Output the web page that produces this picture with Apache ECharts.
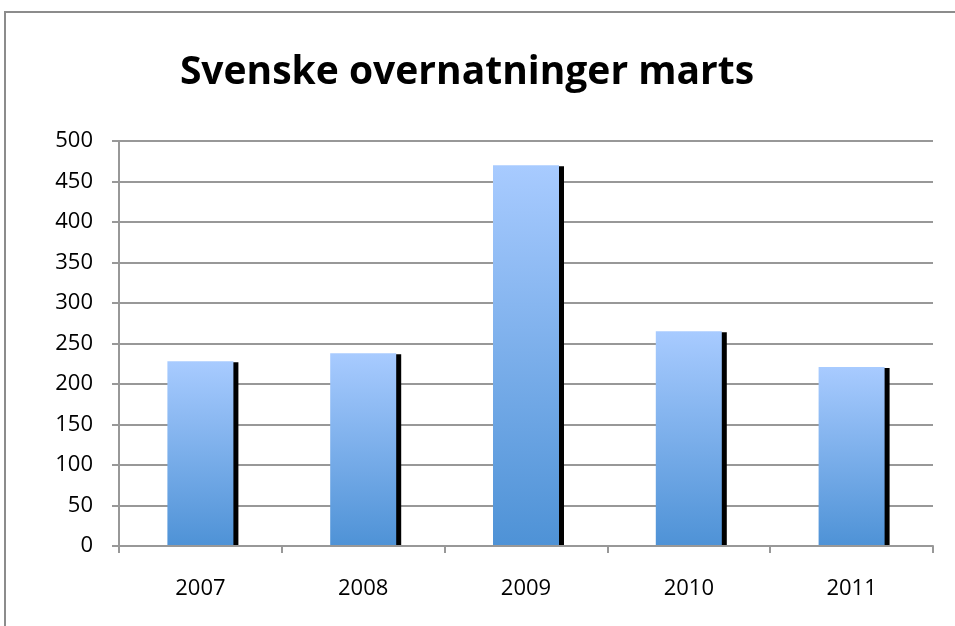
<!DOCTYPE html>
<html>
<head>
<meta charset="utf-8">
<script src="https://cdn.jsdelivr.net/npm/echarts@6/dist/echarts.min.js"></script>
<style>
  html, body { margin: 0; padding: 0; background: #fff; }
  #chart { width: 955px; height: 626px; }
</style>
</head>
<body>
<div id="chart"></div>
<script>
    // data
    var years = ['2007', '2008', '2009', '2010', '2011'];
    var overnatninger = [228, 238, 470, 265, 221];
    var yTicks = [0, 50, 100, 150, 200, 250, 300, 350, 400, 450, 500];

    var grey = '#989898';
    var font = '"Open Sans", "Liberation Sans", sans-serif';

    var options = {
        animation: false,
        backgroundColor: '#fff',
        title: {
            text: 'Svenske overnatninger marts',
            left: 462,
            top: 48,
            textAlign: 'center',
            textStyle: {
                fontFamily: font,
                fontWeight: 'bold',
                fontSize: 39,
                color: '#000'
            }
        },
        graphic: [{
            type: 'rect',
            shape: {x: 5, y: 12, width: 980, height: 660},
            style: {fill: 'none', stroke: '#8c8c8c', lineWidth: 2},
            silent: true
        }],
        grid: {
            left: 119,
            right: 22,
            top: 141,
            bottom: 80
        },
        xAxis: {
            type: 'category',
            data: years,
            z: 5,
            axisLine: {lineStyle: {color: grey, width: 2}},
            axisTick: {show: true, length: 7, alignWithLabel: false, lineStyle: {color: grey, width: 2}},
            axisLabel: {
                margin: 32,
                fontFamily: font,
                fontSize: 22,
                color: '#000'
            }
        },
        yAxis: {
            type: 'value',
            min: yTicks[0],
            max: yTicks[yTicks.length - 1],
            interval: 50,
            axisLine: {show: true, lineStyle: {color: grey, width: 2}},
            axisTick: {show: true, length: 7, lineStyle: {color: grey, width: 2}},
            splitLine: {lineStyle: {color: grey, width: 2}},
            axisLabel: {
                margin: 26,
                fontFamily: font,
                fontSize: 22,
                color: '#000'
            }
        },
        series: [{
            type: 'bar',
            data: overnatninger,
            barWidth: 66,
            itemStyle: {
                color: {
                    type: 'linear', x: 0, y: 0, x2: 0, y2: 1,
                    colorStops: [
                        {offset: 0, color: '#a8cbff'},
                        {offset: 1, color: '#4e92d6'}
                    ]
                },
                shadowColor: '#000',
                shadowBlur: 0,
                shadowOffsetX: 5,
                shadowOffsetY: 1
            }
        }]
    };

    var myChart = echarts.init(document.getElementById('chart'));
    myChart.setOption(options);
</script>
</body>
</html>
